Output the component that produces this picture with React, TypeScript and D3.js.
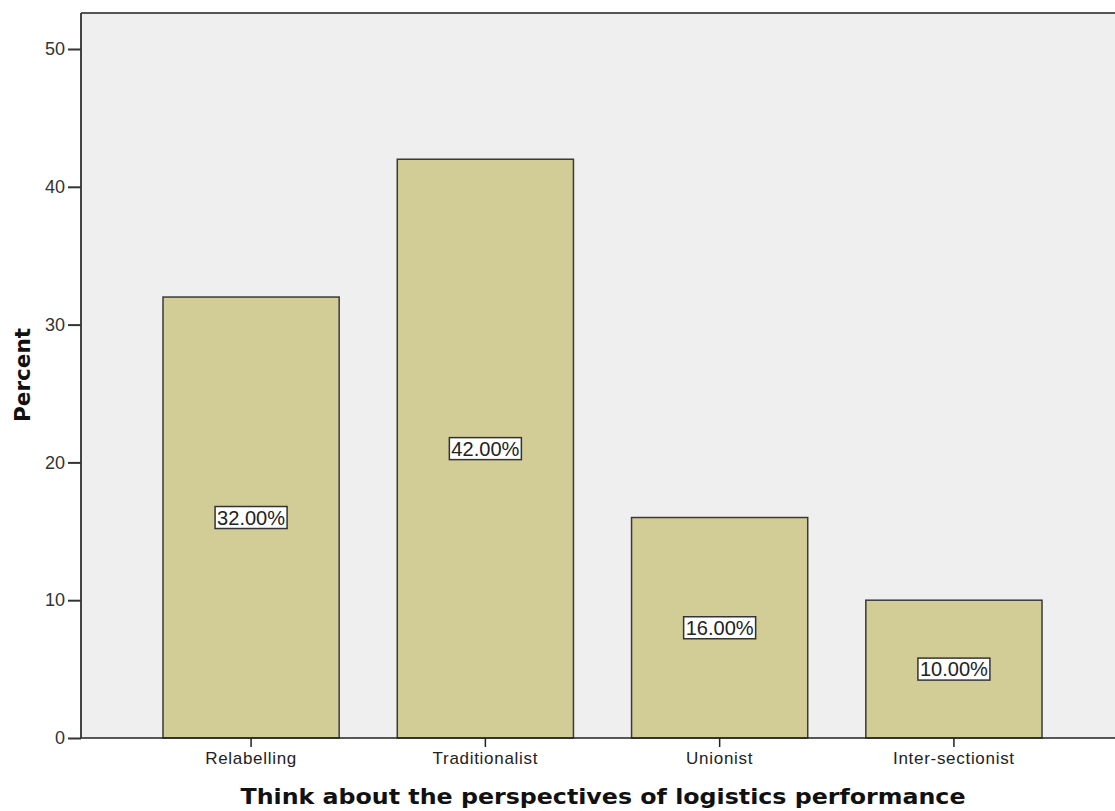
import React, { useRef, useEffect } from 'react';
import * as d3 from 'd3';

const categories = ['Relabelling', 'Traditionalist', 'Unionist', 'Inter-sectionist'];
const percents = [32, 42, 16, 10];
const yTicks = [0, 10, 20, 30, 40, 50];
const xTitle = 'Think about the perspectives of logistics performance';
const yTitle = 'Percent';

export default function App() {
  const ref = useRef<SVGSVGElement>(null);
  useEffect(() => {
    const W = 1115;
    const H = 811;
    const svg = d3.select(ref.current);
    svg.selectAll('*').remove();
    svg.attr('width', W).attr('height', H).attr('viewBox', `0 0 ${W} ${H}`);

    const left = 81;
    const right = 1124;
    const top = 13;
    const bottom = 738;

    const y = d3.scaleLinear().domain([0, 50]).range([bottom, 49]);
    const x = d3.scaleBand<string>().domain(categories).range([left, right]).paddingInner(0.248).paddingOuter(0.35);

    svg.append('rect').attr('width', W).attr('height', H).attr('fill', '#fff');
    svg.append('rect')
      .attr('x', left).attr('y', top)
      .attr('width', W - left).attr('height', bottom - top)
      .attr('fill', '#efefef');

    // bars
    svg.selectAll('rect.bar')
      .data(percents)
      .enter()
      .append('rect')
      .attr('class', 'bar')
      .attr('x', (d, i) => x(categories[i])!)
      .attr('y', d => y(d))
      .attr('width', x.bandwidth())
      .attr('height', d => bottom - y(d))
      .attr('fill', '#d2cd96')
      .attr('stroke', '#3a3a3a')
      .attr('stroke-width', 1.5);

    // frame
    svg.append('line').attr('x1', left).attr('x2', W).attr('y1', top).attr('y2', top)
      .attr('stroke', '#555').attr('stroke-width', 2);
    svg.append('line').attr('x1', left).attr('x2', left).attr('y1', top).attr('y2', bottom)
      .attr('stroke', '#444').attr('stroke-width', 2);
    svg.append('line').attr('x1', left).attr('x2', W).attr('y1', bottom).attr('y2', bottom)
      .attr('stroke', '#222').attr('stroke-width', 1.5);

    // y axis
    const yAxis = d3.axisLeft(y).tickValues(yTicks).tickSize(13).tickPadding(3).tickFormat(d3.format('d'));
    const gy = svg.append('g').attr('transform', `translate(${left},0)`).call(yAxis);
    gy.select('.domain').remove();
    gy.selectAll('line').attr('stroke', '#333').attr('stroke-width', 2);
    gy.selectAll('text').attr('font-family', 'Liberation Sans, Arial, sans-serif')
      .attr('font-size', 18).attr('fill', '#333');

    // x axis
    const xAxis = d3.axisBottom(x).tickSize(9).tickPadding(5);
    const gx = svg.append('g').attr('transform', `translate(0,${bottom})`).call(xAxis);
    gx.select('.domain').remove();
    gx.selectAll('line').attr('stroke', '#222').attr('stroke-width', 1.5);
    gx.selectAll('text').attr('font-family', 'Liberation Sans, Arial, sans-serif')
      .attr('font-size', 17).attr('fill', '#222').attr('letter-spacing', 0.7);

    // value labels
    const labels = svg.selectAll('g.lbl')
      .data(percents)
      .enter()
      .append('g')
      .attr('class', 'lbl')
      .attr('transform', (d, i) => `translate(${x(categories[i])! + x.bandwidth() / 2},${y(d / 2)})`);
    labels.append('rect')
      .attr('x', -36).attr('y', -11).attr('width', 72).attr('height', 22)
      .attr('fill', '#fff').attr('stroke', '#333').attr('stroke-width', 1.5);
    labels.append('text')
      .attr('text-anchor', 'middle')
      .attr('dy', '0.36em')
      .attr('font-family', 'Liberation Sans, Arial, sans-serif')
      .attr('font-size', 20)
      .attr('textLength', 68)
      .attr('lengthAdjust', 'spacingAndGlyphs')
      .attr('fill', '#222')
      .text(d => d3.format('.2f')(d) + '%');

    // titles
    svg.append('text')
      .attr('x', 603).attr('y', 804)
      .attr('text-anchor', 'middle')
      .attr('font-family', 'DejaVu Sans, sans-serif')
      .attr('font-weight', 'bold')
      .attr('font-size', 22)
      .attr('textLength', 725)
      .attr('lengthAdjust', 'spacingAndGlyphs')
      .attr('fill', '#111')
      .text(xTitle);
    svg.append('text')
      .attr('transform', `translate(30,375) rotate(-90)`)
      .attr('text-anchor', 'middle')
      .attr('font-family', 'DejaVu Sans, sans-serif')
      .attr('font-weight', 'bold')
      .attr('font-size', 21)
      .attr('textLength', 94)
      .attr('lengthAdjust', 'spacingAndGlyphs')
      .attr('fill', '#111')
      .text(yTitle);
  }, []);
  return <svg ref={ref} style={{ position: 'absolute', left: 0, top: 0, display: 'block' }} />;
}
